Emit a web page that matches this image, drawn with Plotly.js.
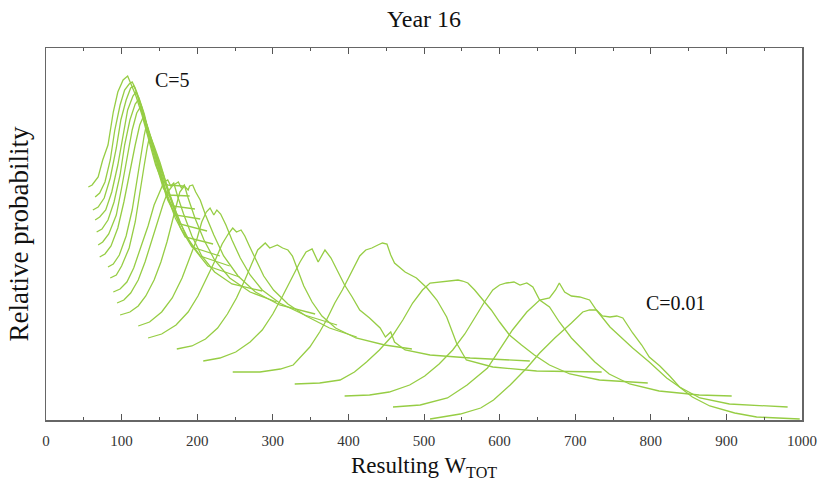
<!DOCTYPE html>
<html>
<head>
<meta charset="utf-8">
<script src="https://cdn.plot.ly/plotly-3.0.1.min.js"></script>
<style>html,body{margin:0;padding:0;background:#fff}#chart{width:824px;height:490px}</style>
</head>
<body>
<div id="chart"></div>
<script>
// Resulting W_TOT (x) and offset relative probability (y) for each C value, from C=5 (top) to C=0.01 (bottom)
const W01 = [56, 61, 69, 75, 82, 89, 95, 102, 108, 112, 119, 127, 137, 145, 153, 161, 181];
const P01 = [233, 235, 243, 260, 275, 308, 328, 340, 344, 336, 324, 305, 277, 255, 240, 235, 234];
const W02 = [65, 71, 78, 85, 91, 98, 104, 110, 114, 118, 124, 132, 140, 148, 155, 161, 190];
const P02 = [223, 227, 238, 260, 290, 315, 330, 336, 338, 332, 316, 295, 272, 250, 232, 225, 224];
const W03 = [62, 69, 77, 85, 93, 99, 106, 112, 116, 120, 127, 135, 143, 151, 159, 167, 197];
const P03 = [210, 213, 222, 242, 272, 300, 320, 332, 334, 328, 312, 290, 268, 245, 224, 214, 211];
const W04 = [65, 71, 79, 87, 95, 102, 108, 115, 119, 123, 130, 137, 145, 153, 161, 171, 204];
const P04 = [200, 203, 210, 228, 255, 285, 310, 324, 328, 322, 306, 284, 262, 240, 220, 205, 201];
const W05 = [67, 74, 82, 90, 98, 104, 111, 118, 122, 126, 132, 140, 148, 157, 167, 177, 213];
const P05 = [188, 191, 200, 218, 245, 275, 300, 316, 320, 314, 298, 277, 256, 232, 212, 196, 189];
const W06 = [69, 75, 83, 93, 100, 107, 114, 120, 124, 128, 135, 143, 151, 160, 171, 184, 221];
const P06 = [175, 178, 186, 205, 232, 262, 290, 307, 312, 307, 292, 272, 250, 225, 202, 183, 176];
const W07 = [71, 78, 86, 95, 103, 111, 118, 124, 128, 132, 139, 147, 156, 167, 178, 193, 230];
const P07 = [163, 166, 174, 192, 218, 250, 275, 295, 302, 297, 282, 263, 240, 215, 192, 173, 164];
const W08 = [82, 89, 97, 106, 114, 120, 126, 130, 132, 136, 143, 151, 160, 172, 185, 204, 243];
const P08 = [153, 156, 165, 184, 210, 240, 268, 285, 292, 288, 274, 257, 234, 208, 184, 164, 154];
const W09 = [85, 93, 100, 110, 118, 124, 130, 134, 136, 140, 147, 155, 164, 177, 193, 214, 256];
const P09 = [142, 145, 154, 172, 198, 228, 255, 273, 280, 276, 263, 246, 224, 198, 174, 154, 143];
const W10 = [89, 98, 107, 116, 125, 135, 143, 151, 156, 161, 165, 169, 174, 182, 193, 206, 223, 246, 286];
const P10 = [128, 131, 138, 152, 172, 194, 215, 230, 238, 240, 234, 237, 224, 206, 184, 164, 148, 136, 129];
const W11 = [94, 103, 112, 122, 131, 140, 148, 155, 161, 167, 171, 175, 179, 183, 188, 197, 209, 223, 243, 270, 305];
const P11 = [117, 120, 127, 140, 158, 180, 200, 216, 228, 234, 236, 238, 232, 235, 222, 202, 180, 160, 142, 128, 118];
const W12 = [98, 111, 122, 132, 143, 152, 160, 167, 172, 177, 183, 188, 190, 194, 198, 204, 211, 222, 235, 254, 277, 309, 356];
const P12 = [105, 108, 114, 124, 140, 158, 178, 198, 215, 228, 234, 230, 234, 235, 228, 220, 205, 185, 164, 144, 128, 115, 106];
const W13 = [122, 137, 153, 167, 180, 190, 200, 206, 212, 217, 222, 226, 231, 238, 246, 257, 270, 286, 309, 342, 385];
const P13 = [94, 98, 108, 122, 142, 162, 182, 198, 208, 212, 205, 210, 206, 195, 180, 162, 145, 130, 117, 105, 95];
const W14 = [135, 153, 172, 188, 201, 213, 224, 233, 241, 247, 252, 258, 263, 269, 278, 288, 301, 320, 344, 375, 411];
const P14 = [82, 86, 95, 108, 124, 142, 160, 176, 186, 192, 188, 190, 184, 174, 160, 144, 130, 116, 104, 92, 83];
const W15 = [173, 193, 211, 227, 240, 252, 263, 272, 280, 290, 296, 306, 313, 320, 326, 333, 341, 352, 365, 383, 410, 448, 484];
const P15 = [71, 74, 81, 92, 106, 122, 140, 156, 170, 177, 172, 175, 172, 170, 164, 150, 134, 118, 104, 92, 82, 75, 71];
const W16 = [208, 230, 251, 270, 286, 300, 313, 325, 336, 344, 352, 360, 369, 377, 385, 395, 405, 415, 428, 442, 449, 456, 461, 475, 508, 561, 640];
const P16 = [59, 62, 68, 78, 90, 106, 124, 142, 158, 168, 171, 158, 170, 162, 150, 135, 123, 110, 102, 92, 83, 88, 78, 70, 65, 62, 59];
const W17 = [247, 283, 310, 327, 349, 362, 371, 382, 392, 404, 415, 423, 431, 439, 445, 451, 456, 461, 475, 490, 504, 517, 530, 543, 556, 591, 649, 735];
const P17 = [48, 48, 51, 55, 73, 88, 100, 117, 130, 148, 164, 170, 172, 175, 177, 176, 165, 157, 148, 142, 132, 120, 103, 77, 60, 53, 49, 48];
const W18 = [329, 362, 389, 408, 424, 441, 459, 472, 485, 498, 508, 521, 534, 545, 551, 558, 567, 578, 589, 600, 613, 629, 646, 666, 693, 732, 796];
const P18 = [36, 37, 40, 48, 58, 70, 85, 100, 117, 130, 137, 138, 139, 140, 139, 137, 130, 120, 110, 98, 85, 75, 65, 55, 46, 40, 37];
const W19 = [395, 428, 454, 481, 501, 520, 538, 554, 567, 580, 591, 600, 609, 619, 627, 636, 644, 653, 666, 679, 695, 710, 726, 745, 772, 811, 864, 907];
const P19 = [24, 25, 28, 35, 44, 56, 70, 86, 102, 118, 130, 135, 137, 138, 135, 137, 133, 120, 113, 98, 82, 70, 58, 46, 36, 29, 25, 24];
const W20 = [459, 495, 531, 557, 584, 600, 617, 636, 653, 666, 674, 679, 686, 695, 706, 719, 728, 746, 761, 776, 798, 821, 838, 865, 904, 981];
const P20 = [13, 15, 22, 35, 52, 70, 90, 108, 120, 122, 130, 137, 128, 124, 123, 120, 110, 93, 82, 72, 58, 42, 33, 22, 16, 13];
const W21 = [508, 548, 575, 592, 614, 636, 653, 673, 695, 710, 719, 728, 736, 746, 755, 763, 776, 788, 798, 812, 825, 838, 855, 878, 911, 940, 997];
const P21 = [1, 6, 12, 20, 35, 52, 67, 82, 97, 108, 110, 110, 104, 103, 104, 102, 87, 75, 63, 54, 44, 33, 23, 14, 7, 3, 1];

const xTickVals = [0, 100, 200, 300, 400, 500, 600, 700, 800, 900, 1000];
const xTickText = ['0', '100', '200', '300', '400', '500', '600', '700', '800', '900', '1000'];
const labels = [{text: 'C=5', x: 167, y: 340}, {text: 'C=0.01', x: 833, y: 117}];

const series = [[W01,P01],[W02,P02],[W03,P03],[W04,P04],[W05,P05],[W06,P06],[W07,P07],
  [W08,P08],[W09,P09],[W10,P10],[W11,P11],[W12,P12],[W13,P13],[W14,P14],[W15,P15],
  [W16,P16],[W17,P17],[W18,P18],[W19,P19],[W20,P20],[W21,P21]];

const green = 'rgb(150,205,68)';
const traces = series.map(s => ({
  x: s[0], y: s[1], type: 'scatter', mode: 'lines',
  line: {color: green, width: 1.3}, hoverinfo: 'skip', cliponaxis: true
}));

const serif = 'Liberation Serif, Times New Roman, serif';
const layout = {
  width: 824, height: 490,
  margin: {l: 46, r: 22, t: 48, b: 70},
  paper_bgcolor: '#fff', plot_bgcolor: '#fff',
  showlegend: false,
  title: {text: 'Year 16', font: {family: serif, size: 24, color: '#111'}, x: 0.5, xref: 'paper', y: 0.98, yref: 'container', yanchor: 'top'},
  xaxis: {
    range: [0, 1000], tickvals: xTickVals, ticktext: xTickText,
    ticks: 'inside', ticklen: 6, tickwidth: 1, tickcolor: '#555',
    minor: {dtick: 50, ticks: 'inside', ticklen: 3, tickcolor: '#555', showgrid: false},
    showline: true, linecolor: '#666', linewidth: 1.5, mirror: 'ticks',
    showgrid: false, zeroline: false,
    ticklabelstandoff: 6,
    tickfont: {family: serif, size: 15, color: '#333'},
    title: {text: 'Resulting W<sub>TOT</sub>', font: {family: serif, size: 23, color: '#111'}, standoff: 9}
  },
  yaxis: {
    range: [0, 372], showticklabels: false, ticks: '',
    showline: true, linecolor: '#666', linewidth: 1.5, mirror: true,
    showgrid: false, zeroline: false,
    title: {text: 'Relative probability', font: {family: serif, size: 27, color: '#111'}, standoff: 8}
  },
  annotations: labels.map(a => ({
    text: a.text, x: a.x, y: a.y, xref: 'x', yref: 'y', showarrow: false,
    font: {family: serif, size: 20, color: '#111'}
  }))
};

Plotly.newPlot('chart', traces, layout, {staticPlot: true, displayModeBar: false});
</script>
</body>
</html>
